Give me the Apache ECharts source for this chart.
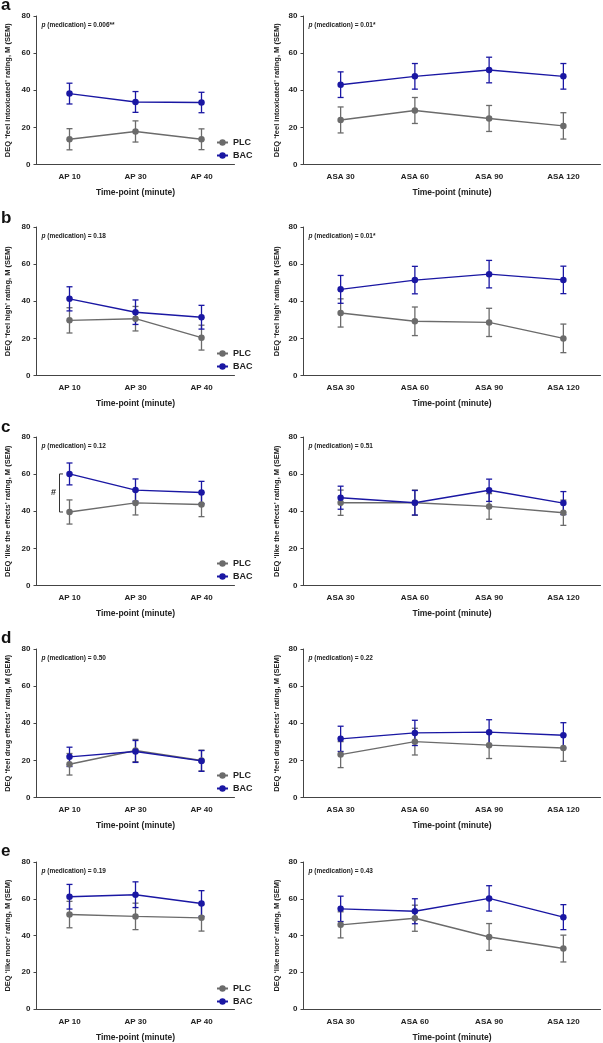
<!DOCTYPE html>
<html><head><meta charset="utf-8">
<script src="https://cdn.jsdelivr.net/npm/echarts@6/dist/echarts.min.js"></script>
<style>html,body{margin:0;padding:0;background:#fff}#c{width:603px;height:1043px}</style>
</head><body><div id="c"></div>
<script>
// ---- categories & tick labels ----
const apCats = ['AP 10', 'AP 30', 'AP 40'];
const asaCats = ['ASA 30', 'ASA 60', 'ASA 90', 'ASA 120'];
const yMin = 0, yMax = 80, yStep = 20;
const groupNames = ['PLC', 'BAC'];
const panelLetters = ['a', 'b', 'c', 'd', 'e'];
const yTitles = [
  'DEQ \u2018feel intoxicated\u2019 rating, M (SEM)',
  'DEQ \u2018feel high\u2019 rating, M (SEM)',
  'DEQ \u2018like the effects\u2019 rating, M (SEM)',
  'DEQ \u2018feel drug effects\u2019 rating, M (SEM)',
  'DEQ \u2018like more\u2019 rating, M (SEM)'
];
const pLeft = ['0.006**', '0.18', '0.12', '0.50', '0.19'];
const pRight = ['0.01*', '0.01*', '0.51', '0.22', '0.43'];

// ---- (a) feel intoxicated ----
const plcIntoxAP = [13.6, 17.8, 13.6], plcIntoxAPsem = [5.7, 5.7, 5.6];
const bacIntoxAP = [38.2, 33.7, 33.4], bacIntoxAPsem = [5.6, 5.6, 5.5];
const plcIntoxASA = [24.0, 29.1, 24.8, 20.8], plcIntoxASAsem = [7.0, 7.0, 7.0, 7.1];
const bacIntoxASA = [43.0, 47.5, 50.9, 47.5], bacIntoxASAsem = [6.9, 6.9, 6.9, 6.9];
// ---- (b) feel high ----
const plcHighAP = [29.7, 30.6, 20.4], plcHighAPsem = [6.8, 6.6, 6.7];
const bacHighAP = [41.3, 34.1, 31.4], bacHighAPsem = [6.5, 6.6, 6.4];
const plcHighASA = [33.7, 29.2, 28.6, 20.0], plcHighASAsem = [7.6, 7.7, 7.6, 7.7];
const bacHighASA = [46.4, 51.4, 54.6, 51.5], bacHighASAsem = [7.5, 7.4, 7.4, 7.4];
// ---- (c) like the effects ----
const plcLikeAP = [39.6, 44.5, 43.6], plcLikeAPsem = [6.5, 6.5, 6.5];
const bacLikeAP = [60.1, 51.4, 50.1], bacLikeAPsem = [5.9, 6.0, 6.0];
const plcLikeASA = [44.6, 44.6, 42.6, 39.2], plcLikeASAsem = [6.8, 6.8, 6.9, 6.8];
const bacLikeASA = [47.3, 44.6, 51.3, 44.4], bacLikeASAsem = [6.2, 6.6, 6.0, 6.2];
// ---- (d) feel drug effects ----
const plcDrugAP = [17.9, 25.3, 19.9], plcDrugAPsem = [5.8, 6.0, 5.6];
const bacDrugAP = [21.9, 24.8, 19.7], bacDrugAPsem = [5.2, 5.9, 5.6];
const plcDrugASA = [23.1, 30.1, 28.2, 26.7], plcDrugASAsem = [7.0, 7.2, 7.2, 7.2];
const bacDrugASA = [31.6, 34.8, 35.2, 33.5], bacDrugASAsem = [6.8, 6.8, 6.7, 6.8];
// ---- (e) like more ----
const plcMoreAP = [51.4, 50.4, 49.6], plcMoreAPsem = [7.2, 7.2, 7.2];
const bacMoreAP = [61.1, 62.2, 57.4], bacMoreAPsem = [6.7, 7.0, 7.0];
const plcMoreASA = [45.8, 49.4, 39.2, 32.9], plcMoreASAsem = [7.1, 7.1, 7.3, 7.3];
const bacMoreASA = [54.5, 53.2, 60.2, 50.0], bacMoreASAsem = [6.9, 6.8, 6.9, 6.8];

const panelData = [
  [[plcIntoxAP, plcIntoxAPsem, bacIntoxAP, bacIntoxAPsem], [plcIntoxASA, plcIntoxASAsem, bacIntoxASA, bacIntoxASAsem]],
  [[plcHighAP, plcHighAPsem, bacHighAP, bacHighAPsem], [plcHighASA, plcHighASAsem, bacHighASA, bacHighASAsem]],
  [[plcLikeAP, plcLikeAPsem, bacLikeAP, bacLikeAPsem], [plcLikeASA, plcLikeASAsem, bacLikeASA, bacLikeASAsem]],
  [[plcDrugAP, plcDrugAPsem, bacDrugAP, bacDrugAPsem], [plcDrugASA, plcDrugASAsem, bacDrugASA, bacDrugASAsem]],
  [[plcMoreAP, plcMoreAPsem, bacMoreAP, bacMoreAPsem], [plcMoreASA, plcMoreASAsem, bacMoreASA, bacMoreASAsem]]
];

// ---- layout / style ----
const FONT = '"Liberation Sans", Arial, sans-serif';
const COL = { PLC: '#6b6b6b', BAC: '#1a17a3' };
const rowTops = [16, 227, 437, 649, 862];
const rowH = 148.5;
const letterY = [6, 219, 428, 639, 852];
const colGeom = [
  { left: 36.5, width: 198, nameGap: 24.5 },
  { left: 303.5, width: 297, nameGap: 22.5 }
];

const grids = [], xAxes = [], yAxes = [], series = [], legends = [], graphics = [];

function errRender(color) {
  return function (params, api) {
    const x = api.value(0), m = api.value(1), s = api.value(2);
    const t = api.coord([x, m + s]), b = api.coord([x, m - s]);
    const hw = 3;
    const st = { stroke: color, lineWidth: 1.3 };
    return { type: 'group', children: [
      { type: 'line', shape: { x1: t[0], y1: t[1], x2: b[0], y2: b[1] }, style: st },
      { type: 'line', shape: { x1: t[0] - hw, y1: t[1], x2: t[0] + hw, y2: t[1] }, style: st },
      { type: 'line', shape: { x1: b[0] - hw, y1: b[1], x2: b[0] + hw, y2: b[1] }, style: st }
    ]};
  };
}

let gi = 0;
for (let r = 0; r < 5; r++) {
  for (let c = 0; c < 2; c++) {
    const g = colGeom[c];
    const cats = c === 0 ? apCats : asaCats;
    grids.push({ left: g.left, top: rowTops[r], width: g.width, height: rowH });
    xAxes.push({
      type: 'category', gridIndex: gi, data: cats, boundaryGap: true,
      name: 'Time-point (minute)', nameLocation: 'middle', nameGap: 24,
      nameTextStyle: { fontFamily: FONT, fontSize: 8.5, fontWeight: 'bold', color: '#222' },
      axisLine: { lineStyle: { color: '#444', width: 1 } },
      axisTick: { alignWithLabel: true, length: 3, lineStyle: { color: '#444' } },
      axisLabel: { fontFamily: FONT, fontSize: 8, fontWeight: 'bold', color: '#222', margin: 8.5 },
      splitLine: { show: false }
    });
    yAxes.push({
      type: 'value', gridIndex: gi, min: yMin, max: yMax, interval: yStep,
      name: yTitles[r], nameLocation: 'middle', nameGap: g.nameGap, nameRotate: 90,
      nameTextStyle: { fontFamily: FONT, fontSize: 7.5, fontWeight: 'bold', color: '#222' },
      axisLine: { show: true, lineStyle: { color: '#444', width: 1 } },
      axisTick: { show: true, length: 3, lineStyle: { color: '#444' } },
      axisLabel: { fontFamily: FONT, fontSize: 8, fontWeight: 'bold', color: '#222', margin: 6 },
      splitLine: { show: false }
    });
    const d = panelData[r][c];
    [['PLC', d[0], d[1]], ['BAC', d[2], d[3]]].forEach(([nm, mean, sem]) => {
      series.push({
        type: 'custom', name: nm + ' SEM', xAxisIndex: gi, yAxisIndex: gi,
        renderItem: errRender(COL[nm]), encode: { x: 0, y: 1 },
        data: mean.map((v, i) => [i, v, sem[i]]), silent: true, z: 2
      });
      series.push({
        type: 'line', name: nm, xAxisIndex: gi, yAxisIndex: gi, data: mean,
        symbol: 'circle', symbolSize: 6.5, showSymbol: true,
        lineStyle: { color: COL[nm], width: 1.4 },
        itemStyle: { color: COL[nm] }, z: nm === 'BAC' ? 4 : 3, animation: false
      });
    });
    if (c === 0) {
      legends.push({
        orient: 'vertical', left: 211, top: rowTops[r] + 117, itemGap: 4,
        itemWidth: 11, itemHeight: 8, data: groupNames,
        textStyle: { fontFamily: FONT, fontSize: 9, fontWeight: 'bold', color: '#222' },
        selectedMode: false
      });
    }
    const pv = c === 0 ? pLeft[r] : pRight[r];
    graphics.push({
      type: 'text', left: c === 0 ? 41.5 : 308.5, top: rowTops[r] + 6,
      style: {
        text: '{i|p} (medication) = ' + pv,
        rich: { i: { fontStyle: 'italic', fontFamily: FONT, fontSize: 6.5, fontWeight: 'bold', fill: '#222' } },
        fontFamily: FONT, fontSize: 6.5, fontWeight: 'bold', fill: '#222'
      }
    });
    gi++;
  }
  graphics.push({
    type: 'text', left: 1, top: letterY[r] - 9,
    style: { text: panelLetters[r], fontFamily: FONT, fontSize: 17, fontWeight: 'bold', fill: '#111' }
  });
}

// significance bracket (#) in panel c, left: between PLC and BAC at AP 10
series.push({
  type: 'custom', name: 'bracket', xAxisIndex: 4, yAxisIndex: 4, silent: true,
  encode: { x: 0, y: 1 },
  data: [[0, bacLikeAP[0], plcLikeAP[0]]],
  renderItem: function (params, api) {
    const a = api.coord([api.value(0), api.value(1)]);
    const b = api.coord([api.value(0), api.value(2)]);
    const x = a[0] - 10;
    const st = { stroke: '#333', lineWidth: 1 };
    return { type: 'group', children: [
      { type: 'line', shape: { x1: x, y1: a[1], x2: x, y2: b[1] }, style: st },
      { type: 'line', shape: { x1: x, y1: a[1], x2: x + 3.5, y2: a[1] }, style: st },
      { type: 'line', shape: { x1: x, y1: b[1], x2: x + 3.5, y2: b[1] }, style: st },
      { type: 'text', style: { text: '#', x: x - 6, y: (a[1] + b[1]) / 2, align: 'center', verticalAlign: 'middle',
        fontFamily: FONT, fontSize: 9, fontWeight: 'bold', fill: '#222' } }
    ]};
  }
});

const chart = echarts.init(document.getElementById('c'), null, { renderer: 'canvas' });
chart.setOption({
  animation: false,
  backgroundColor: '#fff',
  grid: grids, xAxis: xAxes, yAxis: yAxes, legend: legends,
  series: series, graphic: graphics
});
</script></body></html>
